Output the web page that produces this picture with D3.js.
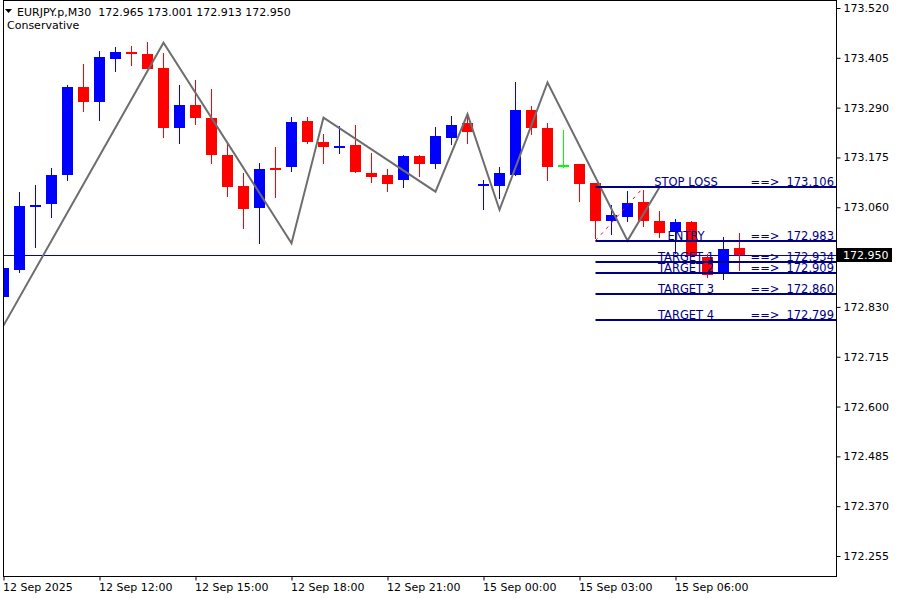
<!DOCTYPE html>
<html><head><meta charset="utf-8">
<script src="https://cdn.jsdelivr.net/npm/d3@7/dist/d3.min.js"></script>
<style>
body{margin:0;background:#fff;}
svg{display:block;font-family:"DejaVu Sans",Tahoma,sans-serif;}
</style>
</head><body>
<svg id="chart" width="900" height="600"></svg>
<script>
// ---------- DATA ----------
const symbolTitle = "EURJPY.p,M30";
const titleOHLC = "172.965 173.001 172.913 172.950";
const subTitle = "Conservative";

const timeLabels = ["12 Sep 2025","12 Sep 12:00","12 Sep 15:00","12 Sep 18:00","12 Sep 21:00","15 Sep 00:00","15 Sep 03:00","15 Sep 06:00"];
const timeTickIndex = [0,6,12,18,24,30,36,42];

const priceTicks = [173.520,173.405,173.290,173.175,173.060,172.830,172.715,172.600,172.485,172.370,172.255];

const openP  = [172.854,172.915,173.062,173.067,173.134,173.338,173.304,173.403,173.418,173.414,
                173.382,173.244,173.297,173.267,173.181,173.108,173.058,173.151,173.152,173.260,
                173.211,173.199,173.204,173.140,173.135,173.122,173.179,173.161,173.221,173.255,
                173.112,173.108,173.134,173.285,173.244,173.156,173.161,173.115,173.028,173.037,
                173.073,173.029,173.004,173.025,172.946,172.910,172.965];
const highP  = [172.940,173.096,173.112,173.151,173.343,173.391,173.421,173.430,173.432,173.442,
                173.416,173.343,173.354,173.333,173.207,173.138,173.163,173.200,173.269,173.269,
                173.230,173.248,173.250,173.186,173.149,173.181,173.180,173.246,173.271,173.269,
                173.124,173.152,173.350,173.294,173.255,173.239,173.161,173.115,173.066,173.097,
                173.101,173.052,173.034,173.028,172.951,172.992,173.001];
const lowP   = [172.854,172.908,172.966,173.035,173.120,173.279,173.258,173.373,173.387,173.380,
                173.219,173.207,173.251,173.159,173.083,173.009,172.975,173.081,173.141,173.205,
                173.159,173.184,173.138,173.115,173.095,173.104,173.129,173.148,173.203,173.207,
                173.053,173.078,173.133,173.227,173.120,173.151,173.072,172.986,172.997,173.025,
                173.015,172.988,172.951,172.946,172.897,172.892,172.913];
const closeP = [172.919,173.062,173.064,173.135,173.338,173.304,173.407,173.419,173.416,173.380,
                173.244,173.297,173.265,173.180,173.106,173.055,173.149,173.148,173.257,173.210,
                173.200,173.201,173.141,173.131,173.113,173.179,173.161,173.225,173.250,173.233,
                173.114,173.138,173.285,173.244,173.154,173.156,173.113,173.028,173.043,173.070,
                173.028,173.000,173.027,172.949,172.903,172.964,172.950];

const zigzagIndex = [0,10,18,20,27,29,31,34,39,41];
const zigzagPrice = [172.787,173.440,172.977,173.267,173.096,173.275,173.054,173.348,172.983,173.106];

const dashIndex = [37,40];
const dashPrice = [172.983,173.106];

const levelNames  = ["STOP LOSS","ENTRY","TARGET 1","TARGET 2","TARGET 3","TARGET 4"];
const levelValues = [173.106,172.983,172.934,172.909,172.860,172.799];
const levelStartIndex = 37;

const bidPrice = 172.950;

// ---------- SETUP ----------
const svg = d3.select("#chart");
const L = 3.5, R = 836.5, T = 0.5, B = 576.5;

const x = d3.scaleLinear().domain([0, 46]).range([3.5, 739.5]);
const y = d3.scaleLinear().domain([173.520, 172.255]).range([8, 556]);

svg.append("rect").attr("width",900).attr("height",600).attr("fill","#fff");

svg.append("defs").append("clipPath").attr("id","plotclip")
  .append("rect").attr("x",L).attr("y",T).attr("width",R-L).attr("height",B-T);

const plot = svg.append("g").attr("clip-path","url(#plotclip)");

const candles = openP.map((o,i)=>({i, o, h:highP[i], l:lowP[i], c:closeP[i]}));
const col = d => d.c > d.o ? "#0000ff" : (d.c < d.o ? "#ff0000" : "#00ff00");

// bid line
plot.append("line")
  .attr("x1",0).attr("x2",R)
  .attr("y1",Math.round(y(bidPrice))+0.5).attr("y2",Math.round(y(bidPrice))+0.5)
  .attr("stroke","#0000c8").attr("stroke-width",1);

// wicks
plot.selectAll("rect.wick").data(candles).join("rect").attr("class","wick")
  .attr("x",d=>x(d.i)-0.5).attr("width",1)
  .attr("y",d=>Math.round(y(d.h))).attr("height",d=>Math.max(1,Math.round(y(d.l))-Math.round(y(d.h))))
  .attr("fill",col);

// bodies
plot.selectAll("rect.body").data(candles).join("rect").attr("class","body")
  .attr("x",d=>x(d.i)-5.5).attr("width",11)
  .attr("y",d=>{const a=Math.round(y(Math.max(d.o,d.c))), b=Math.round(y(Math.min(d.o,d.c))); return (b-a<2)? Math.round((a+b)/2)-1 : a;})
  .attr("height",d=>{const a=Math.round(y(Math.max(d.o,d.c))), b=Math.round(y(Math.min(d.o,d.c))); return Math.max(2,b-a);})
  .attr("fill",col);

// zigzag
const zz = zigzagIndex.map((k,i)=>[k, zigzagPrice[i]]);
plot.append("path").datum(zz)
  .attr("d", d3.line().x(d=>x(d[0])).y(d=>y(d[1])))
  .attr("fill","none").attr("stroke","#6e6e6e").attr("stroke-width",2);

// red dashed trend
const dd = dashIndex.map((k,i)=>[k, dashPrice[i]]);
plot.append("path").datum(dd)
  .attr("d", d3.line().x(d=>x(d[0])).y(d=>y(d[1])))
  .attr("fill","none").attr("stroke","#ff0000").attr("stroke-width",1).attr("stroke-dasharray","3,5");

// level lines
const levels = levelNames.map((n,i)=>({n, v:levelValues[i]}));
plot.selectAll("line.level").data(levels).join("line").attr("class","level")
  .attr("x1",x(levelStartIndex)).attr("x2",R)
  .attr("y1",d=>Math.round(y(d.v))).attr("y2",d=>Math.round(y(d.v)))
  .attr("stroke","#000080").attr("stroke-width",2);

const lvlText = plot.selectAll("g.lvl").data(levels).join("g").attr("class","lvl")
  .attr("transform",d=>`translate(0,${Math.round(y(d.v))-1.5})`)
  .attr("fill","#000080").style("font-size","11.5px");
lvlText.append("text").attr("x",686).attr("text-anchor","middle").text(d=>d.n);
lvlText.append("text").attr("x",765).attr("text-anchor","middle").text("==>");
lvlText.append("text").attr("x",834).attr("text-anchor","end").text(d=>d3.format(".3f")(d.v));

// frame
svg.append("rect").attr("x",L).attr("y",T).attr("width",R-L).attr("height",B-T)
  .attr("fill","none").attr("stroke","#000").attr("stroke-width",1);

// right axis
const ya = svg.append("g").attr("transform",`translate(${R},0)`)
  .call(d3.axisRight(y).tickValues(priceTicks).tickSize(4).tickPadding(3).tickFormat(d3.format(".3f")));
ya.select(".domain").remove();
ya.selectAll("text").attr("fill","#000").style("font-size","11px").style("font-family","'DejaVu Sans',sans-serif");
ya.selectAll("line").attr("stroke","#000");

// bid label box
const by = y(bidPrice);
svg.append("rect").attr("x",837).attr("y",Math.round(by)-7).attr("width",55).attr("height",14).attr("fill","#000");
svg.append("text").attr("x",843).attr("y",by).attr("dy","0.36em").attr("fill","#fff")
  .style("font-size","11px").text(d3.format(".3f")(bidPrice));

// bottom axis
const xa = svg.append("g").attr("transform",`translate(0,${B})`)
  .call(d3.axisBottom(x).tickValues(timeTickIndex).tickSize(4).tickPadding(3)
        .tickFormat((d,i)=>timeLabels[i]));
xa.select(".domain").remove();
xa.selectAll("text").attr("text-anchor","start").attr("x",-1).attr("fill","#000")
  .style("font-size","11px").style("font-family","'DejaVu Sans',sans-serif");
xa.selectAll("line").attr("stroke","#000");

// header
svg.append("path").attr("d","M5,9 L12,9 L8.5,13 Z").attr("fill","#000");
svg.append("text").attr("x",17).attr("y",16).style("font-size","11px").attr("fill","#000")
  .text(symbolTitle + "  " + titleOHLC).attr("xml:space","preserve").style("white-space","pre");
svg.append("text").attr("x",7).attr("y",29).style("font-size","11px").attr("fill","#000").text(subTitle);
</script>
</body></html>
